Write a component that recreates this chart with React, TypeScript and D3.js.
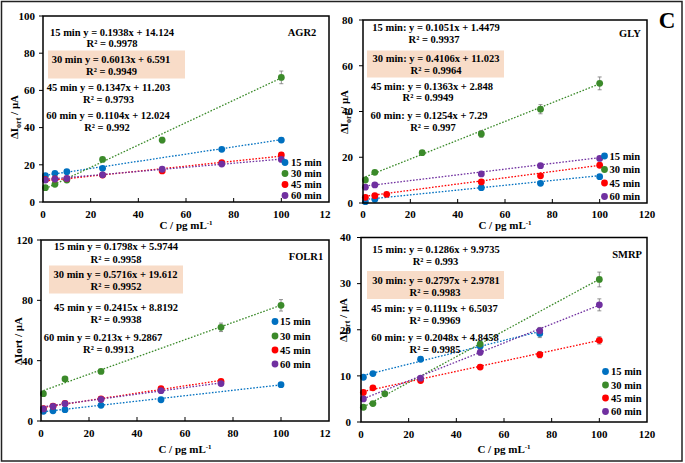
import React from "react";
import * as d3 from "d3";

// ---------- shared data ----------
const CONC = [1, 5, 10, 25, 50, 75, 100];
const SERIES_NAMES = ["15 min", "30 min", "45 min", "60 min"];
const X_TICKS = [0, 20, 40, 60, 80, 100, 120];
const X_LABELS_LEFT = ["0", "20", "40", "60", "80", "100", "12"];
const X_LABELS_RIGHT = ["0", "20", "40", "60", "80", "100", "120"];

// ---------- AGR2 ----------
const AGR2_15 = [14.1, 15.4, 16.3, 18.1, null, 28.3, 33.3];
const AGR2_30 = [7.7, 9.5, 11.8, 22.9, 33.3, null, 67.0];
const AGR2_45 = [12.0, 12.4, 12.6, 14.5, 16.7, 21.1, 25.3];
const AGR2_60 = [11.8, 12.3, 12.7, 14.6, 17.6, 20.4, 22.9];
const AGR2_ERR_15 = [0, 0, 0, 0, 0, 0.8, 1.2];
const AGR2_ERR_30 = [0, 0, 0, 0.6, 1.5, 0, 3.4];
const AGR2_ERR_45 = [0, 0, 0, 0, 0, 0, 1.0];
const AGR2_ERR_60 = [0, 0, 0, 0, 0, 0, 0];
const AGR2_SLOPE = [0.1938, 0.6013, 0.1347, 0.1104];
const AGR2_INTERCEPT = [14.124, 6.591, 11.203, 12.024];
const AGR2_EQ = ["15 min y = 0.1938x + 14.124", "30 min y = 0.6013x + 6.591", "45 min y = 0.1347x + 11.203", "60 min y = 0.1104x + 12.024"];
const AGR2_R2 = ["R² = 0.9978", "R² = 0.9949", "R² = 0.9793", "R² = 0.992"];
const AGR2_Y_TICKS = [0, 20, 40, 60, 80, 100];

// ---------- GLY ----------
const GLY_15 = [0.6, 1.6, null, null, 6.7, 8.6, 11.5];
const GLY_30 = [10.05, 13.4, null, 22.0, 30.2, 41.0, 52.3];
const GLY_45 = [2.5, 3.2, 3.8, null, 9.2, 11.9, 16.5];
const GLY_60 = [6.9, 7.9, null, null, 12.7, 16.3, 19.5];
const GLY_ERR_15 = [0, 0, 0, 0, 0, 0, 0];
const GLY_ERR_30 = [0, 0, 0, 0.8, 1.5, 2.0, 2.8];
const GLY_ERR_45 = [0, 0, 0, 0, 0, 0, 0];
const GLY_ERR_60 = [0, 0, 0, 0, 0, 0, 0];
const GLY_SLOPE = [0.1051, 0.4106, 0.1363, 0.1254];
const GLY_INTERCEPT = [1.4479, 11.023, 2.848, 7.29];
const GLY_EQ = ["15 min: y = 0.1051x + 1.4479", "30 min: y = 0.4106x + 11.023", "45 min: y = 0.1363x + 2.848", "60 min: y = 0.1254x + 7.29"];
const GLY_R2 = ["R² = 0.9937", "R² = 0.9964", "R² = 0.9949", "R² = 0.997"];
const GLY_Y_TICKS = [0, 20, 40, 60, 80];

// ---------- FOLR1 ----------
const FOLR1_15 = [6.4, 6.8, 7.5, 10.4, 14.1, null, 24.1];
const FOLR1_30 = [18.1, null, 27.9, 32.9, null, 62.1, 76.7];
const FOLR1_45 = [8.2, 9.8, 11.7, 14.6, 21.4, 26.3, null];
const FOLR1_60 = [8.0, 9.7, 11.5, 14.4, 20.1, 24.8, null];
const FOLR1_ERR_15 = [0, 0, 0, 0, 0, 0, 0];
const FOLR1_ERR_30 = [0, 0, 0, 0, 0, 2.8, 3.8];
const FOLR1_ERR_45 = [0, 0, 0, 0, 0, 0, 0];
const FOLR1_ERR_60 = [0, 0, 0, 0, 0, 0, 0];
const FOLR1_SLOPE = [0.1798, 0.5716, 0.2415, 0.213];
const FOLR1_INTERCEPT = [5.9744, 19.612, 8.8192, 9.2867];
const FOLR1_EQ = ["15 min y = 0.1798x + 5.9744", "30 min y = 0.5716x + 19.612", "45 min y = 0.2415x + 8.8192", "60 min y = 0.213x + 9.2867"];
const FOLR1_R2 = ["R² = 0.9958", "R² = 0.9952", "R² = 0.9938", "R² = 0.9913"];
const FOLR1_Y_TICKS = [0, 40, 80, 120];

// ---------- SMRP ----------
const SMRP_15 = [9.7, 10.5, null, 13.6, 16.4, 19.2, null];
const SMRP_30 = [3.2, 4.0, 6.1, null, 16.9, null, 30.9];
const SMRP_45 = [6.4, 7.4, null, 9.0, 11.9, 14.6, 17.7];
const SMRP_60 = [5.0, null, null, 9.5, 15.1, 19.8, 25.4];
const SMRP_ERR_15 = [0, 0, 0, 0.5, 0.5, 0.9, 0];
const SMRP_ERR_30 = [0, 0, 0, 0, 0.6, 0, 1.6];
const SMRP_ERR_45 = [0, 0, 0, 0, 0.5, 0.7, 0.8];
const SMRP_ERR_60 = [0, 0, 0, 0, 0.6, 0.7, 1.3];
const SMRP_SLOPE = [0.1286, 0.2797, 0.1119, 0.2048];
const SMRP_INTERCEPT = [9.9735, 2.9781, 6.5037, 4.8458];
const SMRP_EQ = ["15 min: y = 0.1286x + 9.9735", "30 min: y = 0.2797x + 2.9781", "45 min: y = 0.1119x + 6.5037", "60 min: y = 0.2048x + 4.8458"];
const SMRP_R2 = ["R² = 0.993", "R² = 0.9983", "R² = 0.9969", "R² = 0.9985"];
const SMRP_Y_TICKS = [0, 10, 20, 30, 40];

// ---------- styling ----------
const COLORS = ["#0070C0", "#3B8A2A", "#FF0000", "#7030A0"];
const FONT = "'Liberation Serif', 'Times New Roman', serif";
const HILITE = "#F8DCC8";

const PANELS = [
  {
    name: "AGR2", yMax: 100, yTicks: AGR2_Y_TICKS, xLabels: X_LABELS_LEFT,
    series: [AGR2_15, AGR2_30, AGR2_45, AGR2_60],
    errs: [AGR2_ERR_15, AGR2_ERR_30, AGR2_ERR_45, AGR2_ERR_60],
    slope: AGR2_SLOPE, intercept: AGR2_INTERCEPT, eq: AGR2_EQ, r2: AGR2_R2,
    box: { l: 43, t: 16, r: 329, b: 202 }, yLabGap: 8, xTickDy: 15.5, xTitleY: 229, lastLabelShift: -4,
    eqPos: [[112, 32], [112, 43.5], [111, 59.5], [111.5, 71], [108.5, 87.5], [108.5, 99], [108, 115], [107, 127]],
    hilite: { x0: 48, y0: 50.5, x1: 185, y1: 78.5 },
    namePos: [302, 32.5],
    legend: { mx: 285, tx: 291, ys: [162.5, 173.5, 184.5, 195.5] },
    yTitle: { x: 14, y: 117, sub: true, clip: false },
  },
  {
    name: "GLY", yMax: 80, yTicks: GLY_Y_TICKS, xLabels: X_LABELS_RIGHT,
    series: [GLY_15, GLY_30, GLY_45, GLY_60],
    errs: [GLY_ERR_15, GLY_ERR_30, GLY_ERR_45, GLY_ERR_60],
    slope: GLY_SLOPE, intercept: GLY_INTERCEPT, eq: GLY_EQ, r2: GLY_R2,
    box: { l: 363, t: 20, r: 647, b: 203 }, yLabGap: 10, xTickDy: 15, xTitleY: 228.5, lastLabelShift: 0,
    eqPos: [[436, 27.5], [434, 39.5], [436, 58.5], [436, 70], [432, 86], [428, 97.5], [429, 115], [433, 127]],
    hilite: { x0: 367, y0: 50.5, x1: 504, y1: 77.5 },
    namePos: [630, 33.5],
    legend: { mx: 604.5, tx: 609.5, ys: [156, 169.5, 183, 196.5] },
    yTitle: { x: 344, y: 112, sub: true, clip: true },
  },
  {
    name: "FOLR1", yMax: 120, yTicks: FOLR1_Y_TICKS, xLabels: X_LABELS_LEFT,
    series: [FOLR1_15, FOLR1_30, FOLR1_45, FOLR1_60],
    errs: [FOLR1_ERR_15, FOLR1_ERR_30, FOLR1_ERR_45, FOLR1_ERR_60],
    slope: FOLR1_SLOPE, intercept: FOLR1_INTERCEPT, eq: FOLR1_EQ, r2: FOLR1_R2,
    box: { l: 41, t: 240, r: 329, b: 421 }, yLabGap: 8, xTickDy: 16, xTitleY: 453, lastLabelShift: -4,
    eqPos: [[116, 246.5], [116, 259], [115.5, 274], [116, 286.5], [116, 307.5], [116, 319], [103, 337], [108.5, 349]],
    hilite: { x0: 49, y0: 265.5, x1: 183, y1: 293.5 },
    namePos: [306, 256.5],
    legend: { mx: 275, tx: 280, ys: [321.5, 336, 350, 364] },
    yTitle: { x: 18, y: 341, sub: false, clip: false },
  },
  {
    name: "SMRP", yMax: 40, yTicks: SMRP_Y_TICKS, xLabels: X_LABELS_RIGHT,
    series: [SMRP_15, SMRP_30, SMRP_45, SMRP_60],
    errs: [SMRP_ERR_15, SMRP_ERR_30, SMRP_ERR_45, SMRP_ERR_60],
    slope: SMRP_SLOPE, intercept: SMRP_INTERCEPT, eq: SMRP_EQ, r2: SMRP_R2,
    box: { l: 361, t: 237.5, r: 647, b: 422 }, yLabGap: 10, xTickDy: 16, xTitleY: 453, lastLabelShift: 0,
    eqPos: [[436, 249], [435.5, 261], [436, 280], [435, 292], [434.5, 308], [435, 320.5], [435, 337], [435, 349]],
    hilite: { x0: 367, y0: 271, x1: 504, y1: 299 },
    namePos: [627, 254],
    legend: { mx: 605.5, tx: 611, ys: [371.5, 385, 398, 411.5] },
    yTitle: { x: 343, y: 320, sub: true, clip: true },
  },
];

function Panel({ p }: { p: any }) {
  const { box } = p;
  const x = d3.scaleLinear().domain([0, 120]).range([box.l, box.r]);
  const y = d3.scaleLinear().domain([0, p.yMax]).range([box.b, box.t]);
  const line = d3.line<number>().x((d) => x(d[0])).y((d) => y(d[1]));
  const bold = { fontFamily: FONT, fontWeight: 700 as any };

  return (
    <g>
      {/* highlight */}
      <rect x={p.hilite.x0} y={p.hilite.y0} width={p.hilite.x1 - p.hilite.x0} height={p.hilite.y1 - p.hilite.y0} fill={HILITE} />

      {/* trend lines */}
      {p.series.map((s: (number | null)[], i: number) => {
        const xs = CONC.filter((_, k) => s[k] != null);
        const x0 = d3.min(xs)!;
        const x1 = d3.max(xs)!;
        const pts: any = [[x0, p.slope[i] * x0 + p.intercept[i]], [x1, p.slope[i] * x1 + p.intercept[i]]];
        return <path key={"t" + i} d={line(pts) || ""} stroke={COLORS[i]} strokeWidth={1.3} strokeDasharray="1.6,1.6" fill="none" />;
      })}

      {/* error bars */}
      {p.series.map((s: (number | null)[], i: number) =>
        s.map((v, k) => {
          const e = p.errs[i][k];
          if (v == null || !e) return null;
          const cx = x(CONC[k]);
          return (
            <g key={"e" + i + "-" + k} stroke="#777" strokeWidth={0.8}>
              <line x1={cx} x2={cx} y1={y(v - e)} y2={y(v + e)} />
              <line x1={cx - 2} x2={cx + 2} y1={y(v - e)} y2={y(v - e)} />
              <line x1={cx - 2} x2={cx + 2} y1={y(v + e)} y2={y(v + e)} />
            </g>
          );
        })
      )}

      {/* markers */}
      {p.series.map((s: (number | null)[], i: number) =>
        s.map((v, k) => (v == null ? null : <circle key={"m" + i + "-" + k} cx={x(CONC[k])} cy={y(v)} r={3.4} fill={COLORS[i]} />))
      )}

      {/* frame */}
      <rect x={box.l} y={box.t} width={box.r - box.l} height={box.b - box.t} fill="none" stroke="#000" strokeWidth={1.5} />

      {/* y ticks */}
      {p.yTicks.map((t: number) => (
        <g key={"yt" + t}>
          <line x1={box.l - 4} x2={box.l} y1={y(t)} y2={y(t)} stroke="#000" strokeWidth={1} />
          <text x={box.l - p.yLabGap} y={y(t)} dy="0.35em" textAnchor="end" fontSize={11} style={bold}>{t}</text>
        </g>
      ))}

      {/* x ticks */}
      {X_TICKS.map((t, k) => (
        <g key={"xt" + t}>
          {k > 0 && k < X_TICKS.length - 1 && <line x1={x(t)} x2={x(t)} y1={box.b} y2={box.b - 4} stroke="#000" strokeWidth={1} />}
          <text x={x(t) + (k === X_TICKS.length - 1 ? p.lastLabelShift : 0)} y={box.b + p.xTickDy} textAnchor="middle" fontSize={11} style={bold}>{p.xLabels[k]}</text>
        </g>
      ))}

      {/* x title */}
      <text x={(box.l + box.r) / 2} y={p.xTitleY} textAnchor="middle" fontSize={11} style={bold}>
        C / pg mL<tspan fontSize={7} dy={-4}>-1</tspan>
      </text>

      {/* y title */}
      <g clipPath={p.yTitle.clip ? "url(#rightClip)" : undefined}>
        <text transform={`translate(${p.yTitle.x},${p.yTitle.y}) rotate(-90)`} textAnchor="middle" dy="0.35em" fontSize={11} style={bold}>
          {p.yTitle.sub ? (
            <>
              ΔI<tspan fontSize={8} dy={3}>ort</tspan><tspan dy={-3}> / μA</tspan>
            </>
          ) : (
            "ΔIort / μA"
          )}
        </text>
      </g>

      {/* equations */}
      {p.eq.map((e: string, i: number) => (
        <g key={"eq" + i}>
          <text x={p.eqPos[2 * i][0]} y={p.eqPos[2 * i][1]} dy="0.35em" textAnchor="middle" fontSize={10.5} style={bold}>{e}</text>
          <text x={p.eqPos[2 * i + 1][0]} y={p.eqPos[2 * i + 1][1]} dy="0.35em" textAnchor="middle" fontSize={10.5} style={bold}>{p.r2[i]}</text>
        </g>
      ))}

      {/* panel name */}
      <text x={p.namePos[0]} y={p.namePos[1]} dy="0.35em" textAnchor="middle" fontSize={10.5} style={bold}>{p.name}</text>

      {/* legend */}
      {SERIES_NAMES.map((n, i) => (
        <g key={"lg" + i}>
          <circle cx={p.legend.mx} cy={p.legend.ys[i]} r={3.4} fill={COLORS[i]} />
          <text x={p.legend.tx} y={p.legend.ys[i]} dy="0.35em" fontSize={10.5} style={bold}>{n}</text>
        </g>
      ))}
    </g>
  );
}

export default function App() {
  return (
    <svg width={685} height={463} style={{ position: "absolute", left: 0, top: 0, background: "#fff" }}>
      <defs>
        <clipPath id="rightClip">
          <rect x={339.5} y={0} width={400} height={463} />
        </clipPath>
      </defs>
      <rect x={0} y={0} width={685} height={463} fill="#fff" />
      {PANELS.map((p) => (
        <Panel key={p.name} p={p} />
      ))}
      <text x={667} y={20} dy="0.35em" textAnchor="middle" fontSize={23} style={{ fontFamily: FONT, fontWeight: 700 }}>C</text>
      <rect x={1.5} y={1.5} width={680.5} height={459.5} fill="none" stroke="#222" strokeWidth={1.5} />
    </svg>
  );
}
